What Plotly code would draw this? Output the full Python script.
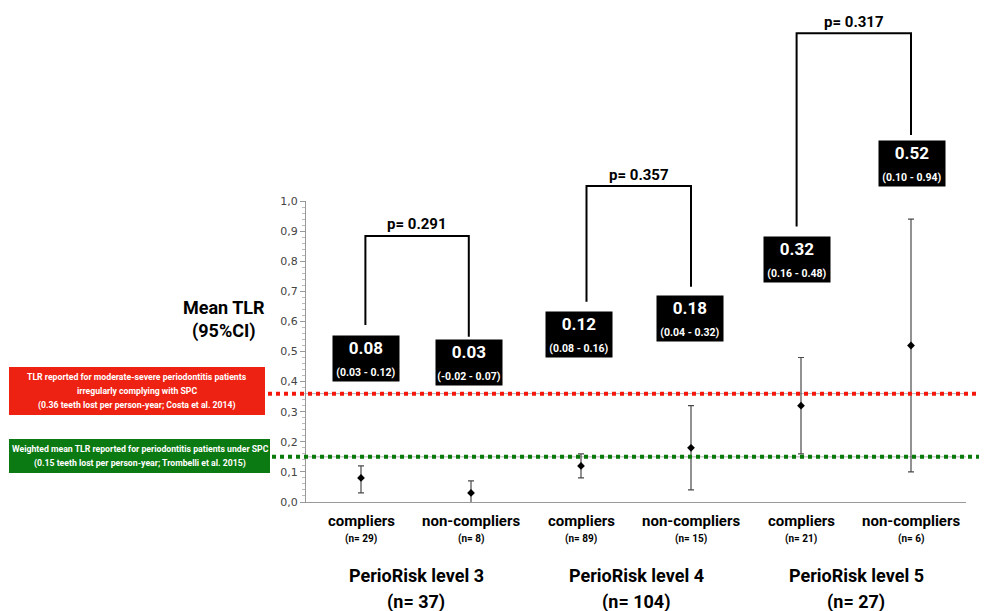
import plotly.graph_objects as go

# ---------------- data ----------------
groups = ["PerioRisk level 3", "PerioRisk level 4", "PerioRisk level 5"]
group_n = [37, 104, 27]
subgroups = ["compliers", "non-compliers", "compliers", "non-compliers", "compliers", "non-compliers"]
sub_n = [29, 8, 89, 15, 21, 6]
means = [0.08, 0.03, 0.12, 0.18, 0.32, 0.52]
ci_lo = [0.03, -0.02, 0.08, 0.04, 0.16, 0.10]
ci_hi = [0.12, 0.07, 0.16, 0.32, 0.48, 0.94]
p_values = [0.291, 0.357, 0.317]
ref_costa = 0.36
ref_trombelli = 0.15
y_ticks = [0.0, 0.1, 0.2, 0.3, 0.4, 0.5, 0.6, 0.7, 0.8, 0.9, 1.0]
costa_lines = ["TLR reported for moderate-severe periodontitis patients",
               "irregularly complying with SPC",
               f"({ref_costa:.2f} teeth lost per person-year; Costa et al. 2014)"]
trombelli_lines = ["Weighted mean TLR reported for periodontitis patients under SPC",
                   f"({ref_trombelli:.2f} teeth lost per person-year; Trombelli et al. 2015)"]

# ---------------- layout constants (positions / styles) ----------------
OFF = 8                      # page body margin offset
W, H = 987 - OFF, 611 - OFF
ML, MR, MT, MB = 306 - OFF, 21, 201 - OFF, 109
PW = W - ML - MR
PH = H - MT - MB
FONT = "Roboto, 'Open Sans', sans-serif"

def px2py(ypix):
    # target screenshot pixel -> paper y
    return (H - MB - (ypix - OFF)) / PH

def px2pxp(xpix):
    # target screenshot pixel -> paper x
    return ((xpix - OFF) - ML) / PW

x_idx = list(range(len(means)))

fig = go.Figure()

# thin guide lines under dotted references (within plot)
for v in (ref_costa, ref_trombelli):
    fig.add_shape(type="line", xref="paper", yref="y", x0=0, x1=1, y0=v, y1=v,
                  line=dict(color="#b0b0b0", width=1), layer="below")

# dotted reference lines
fig.add_shape(type="line", xref="paper", yref="paper", x0=px2pxp(268), x1=px2pxp(995),
              y0=ref_costa, y1=ref_costa, line=dict(color="#f4180c", width=4, dash="4px,4px"))
fig.add_shape(type="line", xref="paper", yref="paper", x0=px2pxp(272), x1=px2pxp(995),
              y0=ref_trombelli, y1=ref_trombelli, line=dict(color="#0a7a0a", width=4, dash="4px,4px"))

# error bars + points
fig.add_trace(go.Scatter(
    x=x_idx, y=means, mode="markers",
    marker=dict(symbol="diamond", size=6, color="black"),
    error_y=dict(type="data", symmetric=False,
                 array=[h - m for h, m in zip(ci_hi, means)],
                 arrayminus=[m - l for m, l in zip(means, ci_lo)],
                 color="#4a4a4a", thickness=1.2, width=3),
    showlegend=False, hoverinfo="skip", cliponaxis=True,
))

# reference boxes
fig.add_shape(type="rect", xref="paper", yref="paper",
              x0=px2pxp(9), x1=px2pxp(265), y0=px2py(415), y1=px2py(367),
              fillcolor="#ee2212", line=dict(width=0))
fig.add_shape(type="rect", xref="paper", yref="paper",
              x0=px2pxp(9), x1=px2pxp(270), y0=px2py(473), y1=px2py(439),
              fillcolor="#0b7a12", line=dict(width=0))
for j, (line_txt, ypix) in enumerate(zip(costa_lines, [377, 391, 405])):
    fig.add_annotation(xref="paper", yref="paper", x=px2pxp(137), y=px2py(ypix),
                       xanchor="center", yanchor="middle", text=f"<b>{line_txt}</b>",
                       showarrow=False, font=dict(family=FONT, size=8.7, color="white"))
for j, (line_txt, ypix) in enumerate(zip(trombelli_lines, [449, 463])):
    fig.add_annotation(xref="paper", yref="paper", x=px2pxp(140), y=px2py(ypix),
                       xanchor="center", yanchor="middle", text=f"<b>{line_txt}</b>",
                       showarrow=False, font=dict(family=FONT, size=8.7, color="white"))

# y axis title
fig.add_annotation(xref="paper", yref="paper", x=px2pxp(224), y=px2py(307),
                   xanchor="center", yanchor="middle",
                   text="<b>Mean TLR</b>", showarrow=False,
                   font=dict(family=FONT, size=18, color="black"))
fig.add_annotation(xref="paper", yref="paper", x=px2pxp(224), y=px2py(331),
                   xanchor="center", yanchor="middle",
                   text="<b>(95%CI)</b>", showarrow=False,
                   font=dict(family=FONT, size=18, color="black"))

# value label boxes (x offset in category units, y centre in data units)
box_pos = [(0.045, 0.478), (-0.02, 0.463), (-0.02, 0.555), (-0.01, 0.610), (-0.04, 0.807), (0.01, 1.125)]
for i, (dx, yc) in enumerate(box_pos):
    lo = f"{ci_lo[i]:.2f}"
    fig.add_annotation(xref="x", yref="paper", x=i + dx, y=yc,
                       xanchor="center", yanchor="middle",
                       text=f"<b>{means[i]:.2f}</b><br><b><span style='font-size:10.5px'>({lo} - {ci_hi[i]:.2f})</span></b>",
                       showarrow=False, bgcolor="black", width=64, height=43, borderpad=1,
                       font=dict(family=FONT, size=17, color="white"), align="center")

# brackets with p-values: (x left, x right, top, left bottom, right bottom, text y)
brackets = [(0.04, 0.98, 0.884, 0.588, 0.549, 0.924),
            (2.05, 3.0, 1.05, 0.665, 0.715, 1.088),
            (3.96, 5.0, 1.557, 0.915, 1.219, 1.596)]
for k, (xl, xr, top, bl, br, ty) in enumerate(brackets):
    fig.add_shape(type="path", xref="x", yref="paper",
                  path=f"M {xl} {bl} L {xl} {top} L {xr} {top} L {xr} {br}",
                  line=dict(color="black", width=2))
    fig.add_annotation(xref="x", yref="paper", x=(xl + xr) / 2, y=ty,
                       xanchor="center", yanchor="middle",
                       text=f"<b>p= {p_values[k]:.3f}</b>", showarrow=False,
                       font=dict(family=FONT, size=15, color="black"))

# category labels
for i in x_idx:
    fig.add_annotation(xref="x", yref="paper", x=i, y=px2py(521),
                       xanchor="center", yanchor="middle",
                       text=f"<b>{subgroups[i]}</b>", showarrow=False,
                       font=dict(family=FONT, size=15, color="black"))
    fig.add_annotation(xref="x", yref="paper", x=i, y=px2py(539),
                       xanchor="center", yanchor="middle",
                       text=f"<b>(n= {sub_n[i]})</b>", showarrow=False,
                       font=dict(family=FONT, size=10, color="black"))
for g in range(len(groups)):
    fig.add_annotation(xref="x", yref="paper", x=2 * g + 0.5, y=px2py(575),
                       xanchor="center", yanchor="middle",
                       text=f"<b>{groups[g]}</b>", showarrow=False,
                       font=dict(family=FONT, size=18, color="black"))
    fig.add_annotation(xref="x", yref="paper", x=2 * g + 0.5, y=px2py(602),
                       xanchor="center", yanchor="middle",
                       text=f"<b>(n= {group_n[g]})</b>", showarrow=False,
                       font=dict(family=FONT, size=18, color="black"))

fig.update_layout(
    width=W, height=H,
    margin=dict(l=ML, r=MR, t=MT, b=MB, pad=0),
    paper_bgcolor="white", plot_bgcolor="white",
    separators=", ",
    showlegend=False,
    xaxis=dict(range=[-0.5, 5.5], showgrid=False, zeroline=False, showline=True,
               linecolor="#999999", linewidth=1, ticks="", showticklabels=False, fixedrange=True),
    yaxis=dict(range=[0, 1.0], showgrid=False, zeroline=False, showline=True,
               linecolor="#999999", linewidth=1, ticks="outside", ticklen=5, tickcolor="#999999",
               tickvals=y_ticks, tickformat=".1f",
               tickfont=dict(family="'DejaVu Sans', sans-serif", size=11, color="#444444"),
               minor=dict(dtick=0.02, ticks="outside", ticklen=3, tickcolor="#bbbbbb", showgrid=False),
               fixedrange=True),
)

fig.write_html("out.html")
